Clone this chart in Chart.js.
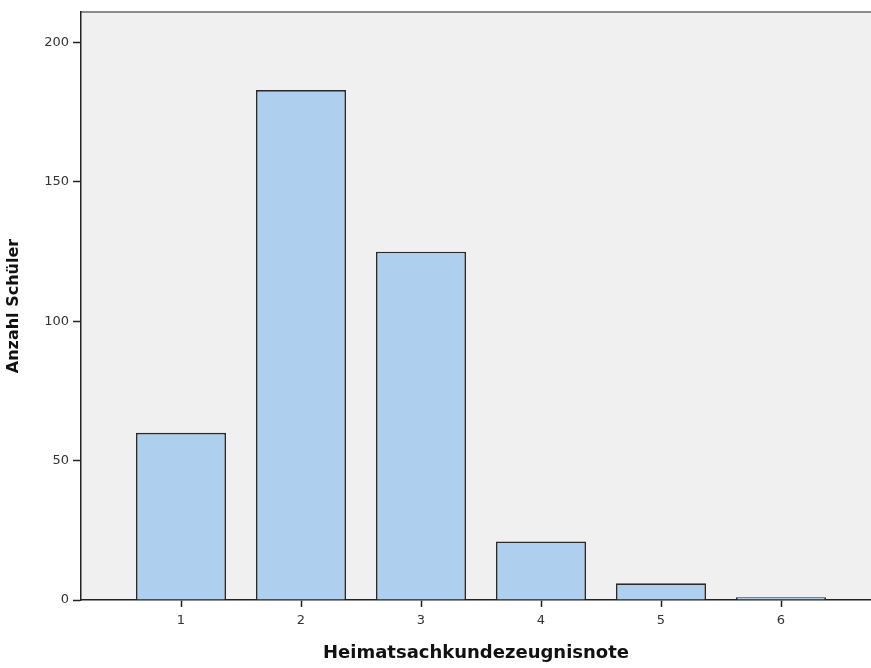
<!DOCTYPE html>
<html>
<head>
<meta charset="utf-8">
<script src="https://cdn.jsdelivr.net/npm/chart.js@4"></script>
<style>
  html, body { margin: 0; padding: 0; background: #fff; }
  #wrap { width: 871px; height: 668px; }
</style>
</head>
<body>
<div id="wrap"><canvas id="noten"></canvas></div>
<script>
// Heimatsachkunde - Zeugnisnoten
const grades = [1, 2, 3, 4, 5, 6];
const counts = [60, 183, 125, 21, 6, 1];
const yTicks = [0, 50, 100, 150, 200];

// grey plot background + top border line
const plotBg = {
    id: "plotBg",
    beforeDraw(chart) {
        const { ctx, chartArea: a } = chart;
        ctx.save();
        ctx.fillStyle = "#f0f0f0";
        ctx.fillRect(a.left, a.top, a.right - a.left, a.bottom - a.top);
        ctx.strokeStyle = "#8c8c8c";
        ctx.lineWidth = 2;
        ctx.beginPath();
        ctx.moveTo(a.left, a.top);
        ctx.lineTo(a.right, a.top);
        ctx.stroke();
        ctx.restore();
    }
};

const ctx = document.getElementById("noten").getContext("2d");

new Chart(ctx, {
    type: "bar",
    data: {
        datasets: [{
            label: "Anzahl Schüler",
            data: grades.map((g, i) => ({ x: g, y: counts[i] })),
            backgroundColor: "#aecfee",
            borderColor: "#2a2a2a",
            borderWidth: 1.6,
            barPercentage: 0.75,
            categoryPercentage: 1
        }]
    },
    options: {
        responsive: true,
        maintainAspectRatio: false,
        animation: false,
        layout: { padding: { top: 12, right: 0, left: 0, bottom: 0 } },
        plugins: {
            legend: { display: false },
            tooltip: { enabled: false }
        },
        scales: {
            x: {
                type: "linear",
                offset: false,
                min: 1 - 100 / 120,
                max: 1 + 690 / 120,
                afterBuildTicks(scale) {
                    scale.ticks = grades.map(v => ({ value: v }));
                },
                afterFit(scale) { scale.height = 68; },
                grid: {
                    offset: false,
                    drawOnChartArea: false,
                    drawTicks: true,
                    tickLength: 7,
                    tickColor: "#222",
                    tickWidth: 1.5
                },
                border: { color: "#222", width: 1.5 },
                ticks: {
                    color: "#333",
                    font: { family: "DejaVu Sans", size: 13 },
                    padding: 6
                },
                title: {
                    display: true,
                    text: "Heimatsachkundezeugnisnote",
                    color: "#111",
                    font: { family: "DejaVu Sans", size: 18, weight: "bold" },
                    padding: { top: 8 }
                }
            },
            y: {
                min: 0,
                max: 211,
                afterBuildTicks(scale) {
                    scale.ticks = yTicks.map(v => ({ value: v }));
                },
                afterFit(scale) { scale.width = 81; },
                grid: {
                    drawOnChartArea: false,
                    drawTicks: true,
                    tickLength: 8,
                    tickColor: "#222",
                    tickWidth: 1.5
                },
                border: { color: "#222", width: 1.5 },
                ticks: {
                    color: "#333",
                    font: { family: "DejaVu Sans", size: 13 },
                    padding: 4
                },
                title: {
                    display: true,
                    text: "Anzahl Schüler",
                    color: "#111",
                    font: { family: "DejaVu Sans", size: 16, weight: "bold" },
                    padding: { bottom: 8 }
                }
            }
        }
    },
    plugins: [plotBg]
});
</script>
</body>
</html>
